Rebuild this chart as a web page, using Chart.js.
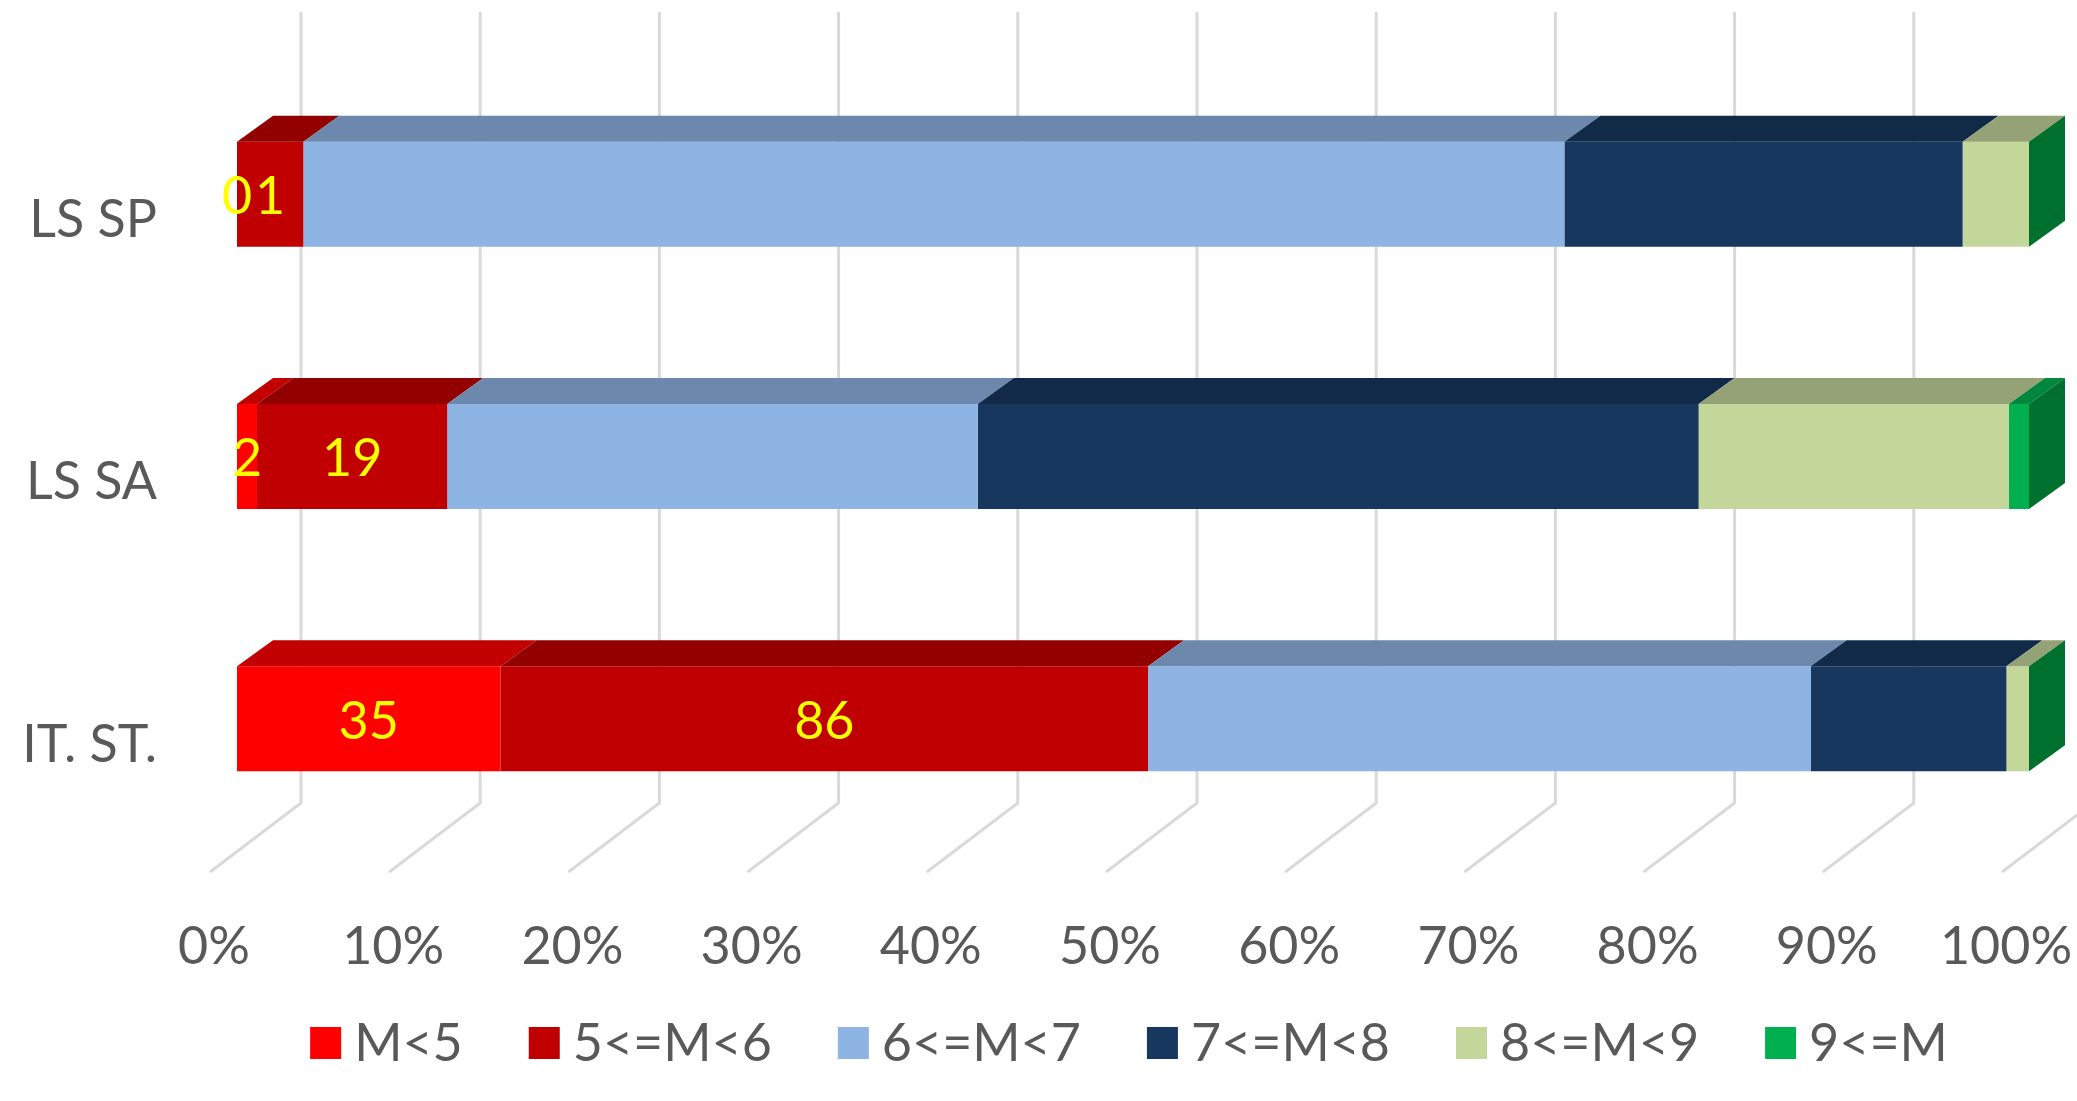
<!DOCTYPE html>
<html>
<head>
<meta charset="utf-8">
<script src="https://cdn.jsdelivr.net/npm/chart.js@4.4.0/dist/chart.umd.min.js"></script>
<style>
html,body{margin:0;padding:0;background:#ffffff;overflow:hidden}
#wrap{width:2077px;height:1101px;position:relative}
canvas{display:block}
</style>
</head>
<body>
<div id="wrap"><canvas id="c" width="2077" height="1101"></canvas></div>
<script>
// ---- data ----
const categories = ['LS SP', 'LS SA', 'IT. ST.'];
const seriesNames = ['M<5', '5<=M<6', '6<=M<7', '7<=M<8', '8<=M<9', '9<=M'];
const mLt5  = [0, 2, 35];
const m5to6 = [1, 19, 86];
const m6to7 = [19, 53, 88];
const m7to8 = [6, 72, 26];
const m8to9 = [1, 31, 3];
const mGe9  = [0, 2, 0];
const tickValues = [0, 10, 20, 30, 40, 50, 60, 70, 80, 90, 100];
const labelledSeries = [0, 1];

// ---- style ----
const frontColors = ['#FF0000', '#C00000', '#8DB4E2', '#17375E', '#C4D79B', '#00B050'];
const topColors   = ['#C20000', '#920000', '#6C89AD', '#112A48', '#95A276', '#00863D'];
const sideColors  = ['#B00000', '#800000', '#5F7899', '#0F243E', '#838F68', '#00702F'];
const FONT = 'Lato, "Open Sans", sans-serif';
const TEXT = '#595959';

const counts = [mLt5, m5to6, m6to7, m7to8, m8to9, mGe9];
const totals = categories.map((_, i) => counts.reduce((s, a) => s + a[i], 0));

const datasets = counts.map((arr, k) => ({
  label: seriesNames[k],
  data: arr.map((v, i) => v / totals[i] * 100),
  rawCounts: arr,
  backgroundColor: frontColors[k],
  borderWidth: 0,
  barPercentage: 0.8,
  categoryPercentage: 0.5
}));

const DEPTH = { dx: 36, dy: 26 };

const wall3d = {
  id: 'wall3d',
  beforeDatasetsDraw(chart) {
    const { ctx, chartArea } = chart;
    const xs = chart.scales.x;
    const top = chartArea.top - 51;
    const wallBottom = chartArea.bottom - 47;
    const floorY = chartArea.bottom + 22;
    ctx.save();
    ctx.strokeStyle = '#D9D9D9';
    ctx.lineWidth = 3;
    ctx.lineJoin = 'miter';
    tickValues.forEach(v => {
      const x = xs.getPixelForValue(v);
      ctx.beginPath();
      ctx.moveTo(x + 64, top);
      ctx.lineTo(x + 64, wallBottom);
      ctx.lineTo(x - 27, floorY);
      ctx.stroke();
    });
    ctx.restore();
  }
};

const bars3d = {
  id: 'bars3d',
  afterDatasetsDraw(chart) {
    const { ctx } = chart;
    const n = chart.data.datasets.length;
    ctx.save();
    categories.forEach((c, i) => {
      for (let k = 0; k < n; k++) {
        const el = chart.getDatasetMeta(k).data[i];
        const p = el.getProps(['x', 'y', 'base', 'height'], true);
        const x0 = Math.min(p.x, p.base), x1 = Math.max(p.x, p.base);
        const t = p.y - p.height / 2;
        ctx.fillStyle = topColors[k];
        ctx.beginPath();
        ctx.moveTo(x0, t);
        ctx.lineTo(x1, t);
        ctx.lineTo(x1 + DEPTH.dx, t - DEPTH.dy);
        ctx.lineTo(x0 + DEPTH.dx, t - DEPTH.dy);
        ctx.closePath();
        ctx.fill();
      }
      // right face of the last series
      const last = chart.getDatasetMeta(n - 1).data[i].getProps(['x', 'y', 'height'], true);
      const t = last.y - last.height / 2, b = last.y + last.height / 2;
      ctx.fillStyle = sideColors[n - 1];
      ctx.beginPath();
      ctx.moveTo(last.x, t);
      ctx.lineTo(last.x + DEPTH.dx, t - DEPTH.dy);
      ctx.lineTo(last.x + DEPTH.dx, b - DEPTH.dy);
      ctx.lineTo(last.x, b);
      ctx.closePath();
      ctx.fill();
    });
    // data labels
    ctx.font = '52px ' + FONT;
    ctx.fillStyle = '#FFFF00';
    ctx.textAlign = 'center';
    ctx.textBaseline = 'middle';
    labelledSeries.forEach(k => {
      const ds = chart.data.datasets[k];
      chart.getDatasetMeta(k).data.forEach((el, i) => {
        const p = el.getProps(['x', 'y', 'base'], true);
        ctx.fillText(String(ds.rawCounts[i]), (p.x + p.base) / 2, p.y + 3);
      });
    });
    ctx.restore();
  }
};

const legendPlugin = {
  id: 'customLegend',
  afterDraw(chart) {
    const { ctx } = chart;
    ctx.save();
    ctx.font = '52px ' + FONT;
    ctx.textBaseline = 'middle';
    ctx.textAlign = 'left';
    const box = 31, gapText = 13, gapItem = 66;
    const items = chart.data.datasets.map(d => ({ label: d.label, color: d.backgroundColor, w: ctx.measureText(d.label).width }));
    const total = items.reduce((s, it) => s + box + gapText + it.w, 0) + gapItem * (items.length - 1);
    let x = 1129 - total / 2;
    const cy = 1043;
    items.forEach(it => {
      ctx.fillStyle = it.color;
      ctx.fillRect(x, cy - 16, box, 32);
      ctx.fillStyle = TEXT;
      ctx.fillText(it.label, x + box + gapText, cy + 1);
      x += box + gapText + it.w + gapItem;
    });
    ctx.restore();
  }
};

function noScalePadding(s) {
  s.paddingLeft = 0; s.paddingRight = 0; s.paddingTop = 0; s.paddingBottom = 0;
}

new Chart(document.getElementById('c'), {
  type: 'bar',
  data: { labels: categories, datasets },
  options: {
    indexAxis: 'y',
    responsive: false,
    animation: false,
    layout: { padding: { top: 63, right: 48, bottom: 0, left: 0 } },
    plugins: { legend: { display: false }, tooltip: { enabled: false } },
    scales: {
      x: {
        stacked: true,
        min: 0, max: 100,
        afterBuildTicks(s) { s.ticks = tickValues.map(v => ({ value: v })); },
        ticks: {
          callback: v => v + '%',
          labelOffset: -23,
          padding: 66,
          maxRotation: 0,
          autoSkip: false,
          font: { family: FONT, size: 52 },
          color: TEXT
        },
        grid: { display: false, drawTicks: false },
        border: { display: false },
        afterFit(s) { s.height = 251; noScalePadding(s); }
      },
      y: {
        stacked: true,
        ticks: {
          labelOffset: 26,
          padding: 80,
          font: { family: FONT, size: 52 },
          color: TEXT
        },
        grid: { display: false, drawTicks: false },
        border: { display: false },
        afterFit(s) { s.width = 237; noScalePadding(s); }
      }
    }
  },
  plugins: [wall3d, bars3d, legendPlugin]
});
</script>
</body>
</html>
